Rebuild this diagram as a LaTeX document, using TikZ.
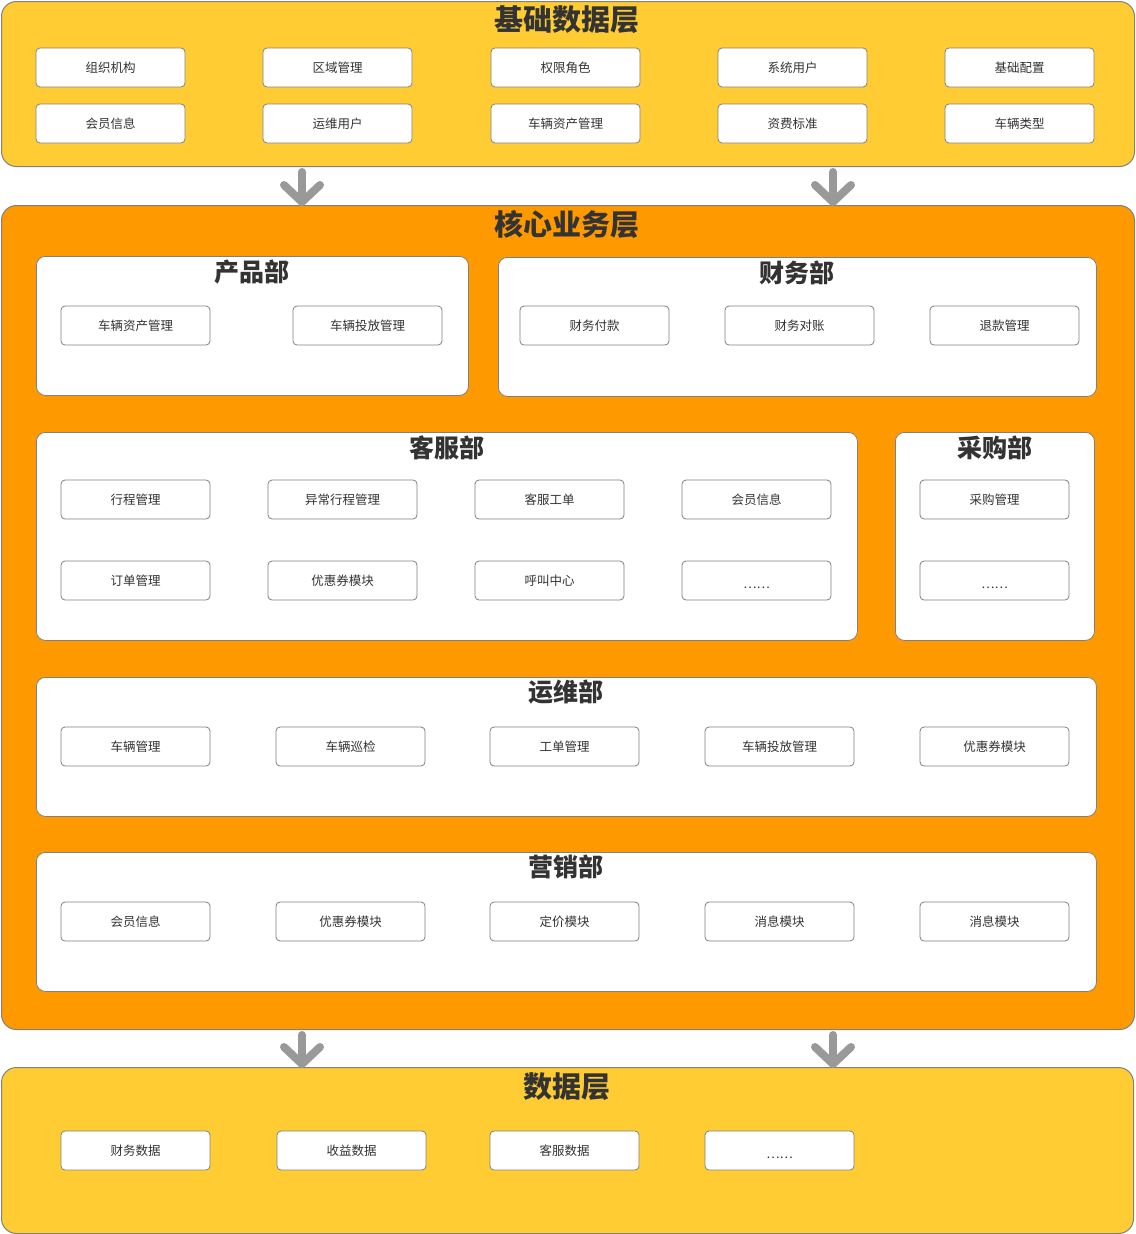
\documentclass[tikz,border=0pt]{standalone}
\usepackage{fontspec}
\setmainfont{Noto Sans CJK SC}
\usepackage{tikz}
\usetikzlibrary{positioning}

\definecolor{layeryellow}{RGB}{255,204,51}
\definecolor{layerorange}{RGB}{255,153,0}
\definecolor{edgegray}{RGB}{128,128,128}
\definecolor{arrowgray}{RGB}{153,153,153}
\definecolor{textgray}{RGB}{51,51,51}

\newcommand{\moredots}{\raisebox{-8pt}[0pt][0pt]{……}}

\begin{document}
\begin{tikzpicture}[x=1pt, y=-1pt]
  % styles
  \tikzstyle{layer}=[rectangle, draw=edgegray, line width=1pt, rounded corners=15pt, anchor=north west, inner sep=0pt]
  \tikzstyle{dept}=[rectangle, draw=edgegray, fill=white, line width=0.8pt, rounded corners=9pt, anchor=north west, inner sep=0pt]
  \tikzstyle{item}=[rectangle, draw=edgegray, fill=white, line width=0.8pt, rounded corners=4pt, minimum width=149pt, minimum height=39pt, inner sep=0pt, text=textgray, font=\fontsize{12.5}{15}\selectfont]
  \tikzstyle{layertitle}=[text=textgray, font=\bfseries\fontsize{29}{32}\selectfont, inner sep=0pt]
  \tikzstyle{depttitle}=[text=textgray, font=\bfseries\fontsize{25}{28}\selectfont, inner sep=0pt]
  \tikzstyle{bigarrow}=[draw=arrowgray, line width=8pt, line cap=round, line join=round]

  \useasboundingbox (0,0) rectangle (1135,1234);

  % layers
  \node [layer, fill=layeryellow, minimum width=1133pt, minimum height=165pt] (base) at (1,1) {};
  \node [layer, fill=layerorange, minimum width=1133pt, minimum height=824pt] (core) at (1,205) {};
  \node [layer, fill=layeryellow, minimum width=1132pt, minimum height=166pt] (data) at (1,1067) {};

  \node [layertitle] (base_title) at (567,20) {基础数据层};
  \node [layertitle] (core_title) at (567,224) {核心业务层};
  \node [layertitle] (data_title) at (567,1087) {数据层};

  % base layer, first row
  \node [item] (org) at (110.5,67.5) {组织机构};
  \node [item] (region) at (337.5,67.5) {区域管理};
  \node [item] (role) at (565.5,67.5) {权限角色};
  \node [item] (sys_user) at (792.5,67.5) {系统用户};
  \node [item] (config) at (1019.5,67.5) {基础配置};
  % base layer, second row
  \node [item] (member) at (110.5,123.5) {会员信息};
  \node [item] (ops_user) at (337.5,123.5) {运维用户};
  \node [item] (asset) at (565.5,123.5) {车辆资产管理};
  \node [item] (tariff) at (792.5,123.5) {资费标准};
  \node [item] (vtype) at (1019.5,123.5) {车辆类型};

  % departments
  \node [dept, minimum width=432pt, minimum height=139pt] (product) at (36,256) {};
  \node [dept, minimum width=598pt, minimum height=139pt] (finance) at (498,257) {};
  \node [dept, minimum width=821pt, minimum height=208pt] (service) at (36,432) {};
  \node [dept, minimum width=199pt, minimum height=208pt] (purchase) at (895,432) {};
  \node [dept, minimum width=1060pt, minimum height=139pt] (operation) at (36,677) {};
  \node [dept, minimum width=1060pt, minimum height=139pt] (marketing) at (36,852) {};

  \node [depttitle] (product_title) at (252,272) {产品部};
  \node [depttitle] (finance_title) at (797,273) {财务部};
  \node [depttitle] (service_title) at (447,448) {客服部};
  \node [depttitle] (purchase_title) at (995,448) {采购部};
  \node [depttitle] (operation_title) at (566,692) {运维部};
  \node [depttitle] (marketing_title) at (566,867) {营销部};

  % product
  \node [item] (p_asset) at (135.5,325.5) {车辆资产管理};
  \node [item] (p_launch) at (367.5,325.5) {车辆投放管理};

  % finance
  \node [item] (f_pay) at (594.5,325.5) {财务付款};
  \node [item] (f_check) at (799.5,325.5) {财务对账};
  \node [item] (f_refund) at (1004.5,325.5) {退款管理};

  % service, first row
  \node [item] (s_trip) at (135.5,499.5) {行程管理};
  \node [item] (s_abnormal) at (342.5,499.5) {异常行程管理};
  \node [item] (s_ticket) at (549.5,499.5) {客服工单};
  \node [item] (s_member) at (756.5,499.5) {会员信息};
  % service, second row
  \node [item] (s_order) at (135.5,580.5) {订单管理};
  \node [item] (s_coupon) at (342.5,580.5) {优惠券模块};
  \node [item] (s_call) at (549.5,580.5) {呼叫中心};
  \node [item] (s_more) at (756.5,580.5) {\moredots};

  % purchase
  \node [item] (pu_manage) at (994.5,499.5) {采购管理};
  \node [item] (pu_more) at (994.5,580.5) {\moredots};

  % operation
  \node [item] (o_vehicle) at (135.5,746.5) {车辆管理};
  \node [item] (o_patrol) at (350.5,746.5) {车辆巡检};
  \node [item] (o_order) at (564.5,746.5) {工单管理};
  \node [item] (o_launch) at (779.5,746.5) {车辆投放管理};
  \node [item] (o_coupon) at (994.5,746.5) {优惠券模块};

  % marketing
  \node [item] (m_member) at (135.5,921.5) {会员信息};
  \node [item] (m_coupon) at (350.5,921.5) {优惠券模块};
  \node [item] (m_price) at (564.5,921.5) {定价模块};
  \node [item] (m_msg1) at (779.5,921.5) {消息模块};
  \node [item] (m_msg2) at (994.5,921.5) {消息模块};

  % data layer
  \node [item] (d_finance) at (135.5,1150.5) {财务数据};
  \node [item] (d_income) at (351.5,1150.5) {收益数据};
  \node [item] (d_service) at (564.5,1150.5) {客服数据};
  \node [item] (d_more) at (779.5,1150.5) {\moredots};

  % arrows between layers
  \coordinate (up_left) at (302,0);
  \coordinate (up_right) at (833,0);
  \coordinate (tip1) at ([yshift=3pt]up_left |- core.north);
  \coordinate (tip2) at ([yshift=3pt]up_right |- core.north);
  \coordinate (tip3) at ([yshift=3pt]up_left |- data.north);
  \coordinate (tip4) at ([yshift=3pt]up_right |- data.north);

  \draw [bigarrow] ([yshift=-5pt]up_left |- base.south) -- (tip1);
  \draw [bigarrow] ([shift={(-18,-17)}]tip1) -- (tip1) -- ([shift={(18,-17)}]tip1);
  \draw [bigarrow] ([yshift=-5pt]up_right |- base.south) -- (tip2);
  \draw [bigarrow] ([shift={(-18,-17)}]tip2) -- (tip2) -- ([shift={(18,-17)}]tip2);
  \draw [bigarrow] ([yshift=-5pt]up_left |- core.south) -- (tip3);
  \draw [bigarrow] ([shift={(-18,-17)}]tip3) -- (tip3) -- ([shift={(18,-17)}]tip3);
  \draw [bigarrow] ([yshift=-5pt]up_right |- core.south) -- (tip4);
  \draw [bigarrow] ([shift={(-18,-17)}]tip4) -- (tip4) -- ([shift={(18,-17)}]tip4);
\end{tikzpicture}
\end{document}
